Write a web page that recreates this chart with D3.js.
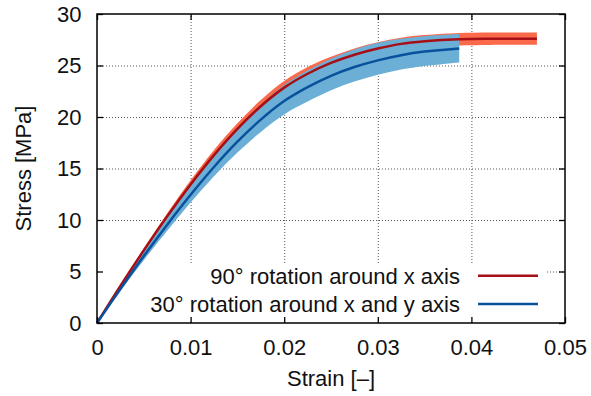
<!DOCTYPE html>
<html>
<head>
<meta charset="utf-8">
<script src="https://cdn.jsdelivr.net/npm/d3@7"></script>
<style>
  body { margin: 0; background: #fff; }
  svg { font-family: "Liberation Sans", Arial, sans-serif; }
</style>
</head>
<body>
<svg id="chart"></svg>
<script>
// 90° rotation around x axis
const redStrain = [0, 0.0025, 0.005, 0.0075, 0.01, 0.0125, 0.015, 0.0175, 0.02, 0.0225, 0.025, 0.0275, 0.03, 0.0325, 0.035, 0.0387, 0.042, 0.047];
const redMean   = [0, 3.6, 7.05, 10.35, 13.45, 16.3, 18.85, 21.05, 22.85, 24.2, 25.25, 26.05, 26.65, 27.1, 27.35, 27.55, 27.6, 27.6];
const redLower  = [0, 3.5, 6.85, 10.05, 13.05, 15.8, 18.3, 20.45, 22.2, 23.55, 24.65, 25.45, 26.05, 26.5, 26.75, 26.95, 27.0, 27.0];
const redUpper  = [0, 3.7, 7.25, 10.65, 13.85, 16.8, 19.4, 21.65, 23.5, 24.85, 25.85, 26.65, 27.25, 27.7, 27.95, 28.15, 28.2, 28.2];

// 30° rotation around x and y axis
const blueStrain = [0, 0.0025, 0.005, 0.0075, 0.01, 0.0125, 0.015, 0.0175, 0.02, 0.0225, 0.025, 0.0275, 0.03, 0.0325, 0.035, 0.0387];
const blueMean   = [0, 3.3, 6.5, 9.55, 12.45, 15.15, 17.6, 19.75, 21.55, 22.9, 24.0, 24.85, 25.5, 26.0, 26.35, 26.65];
const blueLower  = [0, 3.1, 6.1, 8.95, 11.7, 14.25, 16.55, 18.55, 20.25, 21.5, 22.6, 23.45, 24.1, 24.6, 24.95, 25.3];
const blueUpper  = [0, 3.5, 6.95, 10.2, 13.3, 16.2, 18.85, 21.15, 23.1, 24.52, 25.66, 26.55, 27.2, 27.6, 27.85, 28.05];

const xTicks = [0, 0.01, 0.02, 0.03, 0.04, 0.05];
const xTickLabels = ["0", "0.01", "0.02", "0.03", "0.04", "0.05"];
const yTicks = [0, 5, 10, 15, 20, 25, 30];
const yTickLabels = ["0", "5", "10", "15", "20", "25", "30"];

const seriesNames = ["90° rotation around x axis", "30° rotation around x and y axis"];

const width = 591, height = 396;
const margin = { top: 14, right: 26, bottom: 73, left: 97 };
const innerW = width - margin.left - margin.right;
const innerH = height - margin.top - margin.bottom;

const svg = d3.select('#chart')
  .attr('width', width)
  .attr('height', height);

const g = svg.append('g')
  .attr('transform', `translate(${margin.left},${margin.top})`);

const x = d3.scaleLinear().domain([0, 0.05]).range([0, innerW]);
const y = d3.scaleLinear().domain([0, 30]).range([innerH, 0]);

// grid
g.append('g')
  .attr('class', 'grid')
  .attr('transform', `translate(0,${innerH})`)
  .call(d3.axisBottom(x).tickValues(xTicks.slice(1, -1)).tickSize(-innerH).tickFormat(''))
  .call(s => s.select('.domain').remove());
g.append('g')
  .attr('class', 'grid')
  .call(d3.axisLeft(y).tickValues(yTicks.slice(1, -1)).tickSize(-innerW).tickFormat(''))
  .call(s => s.select('.domain').remove());
g.selectAll('.grid line')
  .attr('stroke', '#555')
  .attr('stroke-width', 1)
  .attr('stroke-dasharray', '1,2');

// key background (opaque)
g.append('rect')
  .attr('x', 1)
  .attr('y', 249)
  .attr('width', 449)
  .attr('height', innerH - 250)
  .attr('fill', '#fff');

function toRows(xs, mean, lo, hi) {
  return xs.map((v, i) => ({ x: v, m: mean[i], lo: lo[i], hi: hi[i] }));
}
const red = toRows(redStrain, redMean, redLower, redUpper);
const blue = toRows(blueStrain, blueMean, blueLower, blueUpper);

const curve = d3.curveCatmullRom.alpha(0.5);

const area = d3.area()
  .x(d => x(d.x))
  .y0(d => y(d.lo))
  .y1(d => y(d.hi))
  .curve(curve);

const line = d3.line()
  .x(d => x(d.x))
  .y(d => y(d.m))
  .curve(curve);

g.append('path').datum(red).attr('d', area).attr('fill', '#fb6a4a');
g.append('path').datum(blue).attr('d', area).attr('fill', '#6baed6');
g.append('path').datum(red).attr('d', line)
  .attr('fill', 'none').attr('stroke', '#a50f15').attr('stroke-width', 2.5);
g.append('path').datum(blue).attr('d', line)
  .attr('fill', 'none').attr('stroke', '#08519c').attr('stroke-width', 2.5);

// axes with inward ticks
const fontSize = 22;
const axisBottomG = g.append('g')
  .attr('transform', `translate(0,${innerH})`)
  .call(d3.axisBottom(x).tickValues(xTicks).tickSize(-6).tickPadding(16.5)
    .tickFormat((d, i) => xTickLabels[i]));
const axisLeftG = g.append('g')
  .call(d3.axisLeft(y).tickValues(yTicks).tickSize(-6).tickPadding(15.5)
    .tickFormat((d, i) => yTickLabels[i]));
const axisTopG = g.append('g')
  .call(d3.axisTop(x).tickValues(xTicks).tickSize(-6).tickFormat(''));
const axisRightG = g.append('g')
  .attr('transform', `translate(${innerW},0)`)
  .call(d3.axisRight(y).tickValues(yTicks).tickSize(-6).tickFormat(''));

[axisBottomG, axisLeftG, axisTopG, axisRightG].forEach(a => {
  a.select('.domain').remove();
  a.selectAll('line').attr('stroke', '#000').attr('stroke-width', 1.3);
  a.selectAll('text')
    .attr('fill', '#111')
    .style('font-size', fontSize + 'px')
    .style('font-family', '"Liberation Sans", Arial, sans-serif');
});

// frame
g.append('rect')
  .attr('width', innerW)
  .attr('height', innerH)
  .attr('fill', 'none')
  .attr('stroke', '#000')
  .attr('stroke-width', 1.5);

// axis labels
svg.append('text')
  .attr('x', margin.left + innerW / 2)
  .attr('y', 386)
  .attr('text-anchor', 'middle')
  .style('font-size', fontSize + 'px')
  .attr('fill', '#111')
  .text('Strain [\u2013]');

svg.append('text')
  .attr('transform', `translate(31,${margin.top + innerH / 2}) rotate(-90)`)
  .attr('text-anchor', 'middle')
  .style('font-size', fontSize + 'px')
  .attr('fill', '#111')
  .text('Stress [MPa]');

// legend
const legendColors = ['#a50f15', '#08519c'];
const legend = svg.append('g')
  .attr('class', 'legend');

legend.selectAll('g')
  .data(seriesNames)
  .enter()
  .append('g')
  .attr('transform', (_, i) => `translate(0, ${275.7 + i * 28.4})`)
  .each(function (d, i) {
    const row = d3.select(this);
    row.append('text')
      .attr('x', 460)
      .attr('y', 8)
      .attr('text-anchor', 'end')
      .style('font-size', fontSize + 'px')
      .attr('fill', '#111')
      .text(d);
    row.append('line')
      .attr('x1', 478)
      .attr('x2', 538)
      .attr('stroke', legendColors[i])
      .attr('stroke-width', 2.5);
  });
</script>
</body>
</html>
